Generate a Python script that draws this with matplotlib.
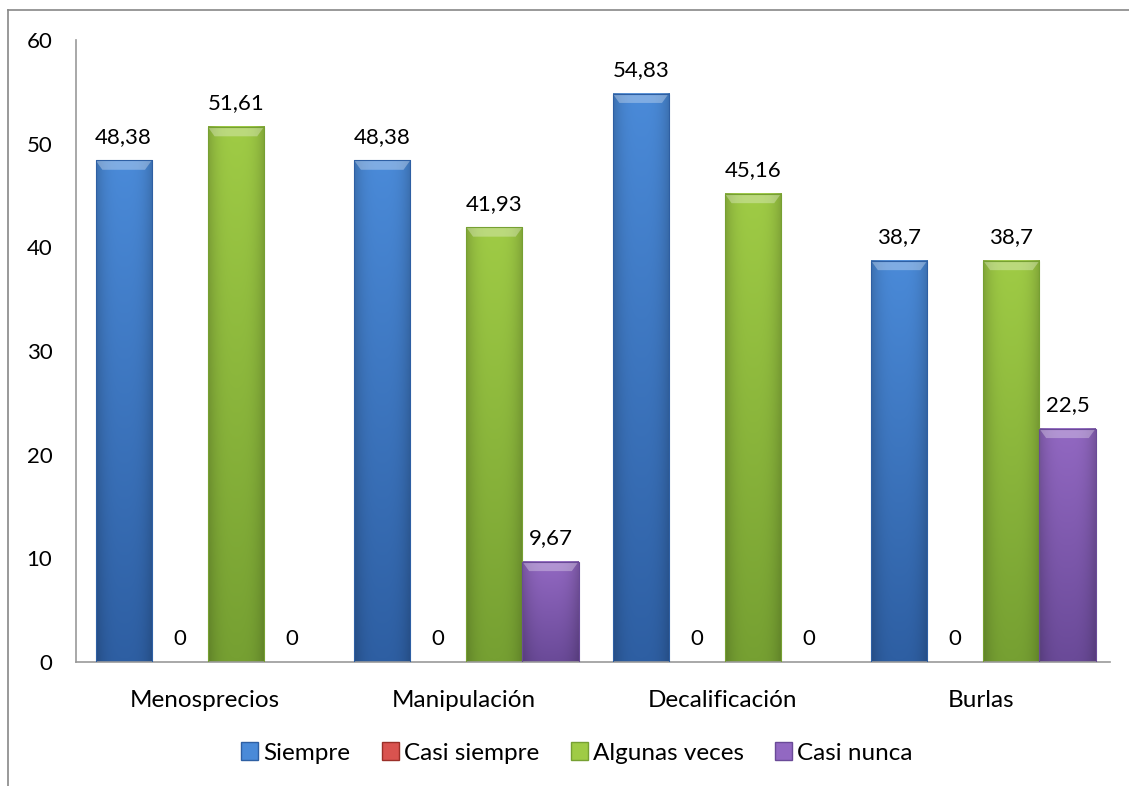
import matplotlib.pyplot as plt
import numpy as np
from matplotlib.colors import to_rgb
from matplotlib.lines import Line2D
from matplotlib.patches import Rectangle, Polygon

categories = ['Menosprecios', 'Manipulación', 'Decalificación', 'Burlas']
series = ['Siempre', 'Casi siempre', 'Algunas veces', 'Casi nunca']
siempre = [48.38, 48.38, 54.83, 38.7]
casi_siempre = [0, 0, 0, 0]
algunas_veces = [51.61, 41.93, 45.16, 38.7]
casi_nunca = [0, 9.67, 0, 22.5]
labels = [
    ['48,38', '48,38', '54,83', '38,7'],
    ['0', '0', '0', '0'],
    ['51,61', '41,93', '45,16', '38,7'],
    ['0', '9,67', '0', '22,5'],
]

# light (top) and dark (bottom) tones of each series
tops = ['#4a8ad8', '#d9534f', '#9fcb45', '#9268c2']
bottoms = ['#2e5fa3', '#9a2f28', '#76a032', '#6a4a98']

plt.rcParams['font.family'] = ['Lato', 'DejaVu Sans']
FS_NUM = 16
FS_TXT = 17.5

fig = plt.figure(figsize=(11.29, 7.86), dpi=100)
ax = fig.add_axes((76 / 1129, 1 - 662 / 786, 1034 / 1129, 622 / 786))

x = np.arange(len(categories))
width = 0.217
values = [siempre, casi_siempre, algunas_veces, casi_nunca]


def draw_bar(x0, w, h, top, bottom):
    if h <= 0:
        return
    t = np.array(to_rgb(top))
    b = np.array(to_rgb(bottom))
    grad = np.linspace(0, 1, 64)[:, None]
    img = (t * (1 - grad) + b * grad)[:, None, :]
    # darken the side edges a bit for a bevel look
    cols = np.linspace(-1, 1, 32)
    shade = 1 - 0.18 * np.abs(cols) ** 3
    img = np.clip(img * shade[None, :, None], 0, 1)
    ax.imshow(img, extent=(x0, x0 + w, 0, h), aspect='auto', zorder=2,
              interpolation='bilinear')
    bev = 0.9
    inset = w * 0.12
    ax.add_patch(Polygon([(x0, h), (x0 + w, h), (x0 + w - inset, h - bev), (x0 + inset, h - bev)],
                         closed=True, color='white', alpha=0.3, lw=0, zorder=3))
    ax.add_patch(Rectangle((x0, 0), w, h, fill=False, edgecolor=bottom, lw=0.8, zorder=3))


for i, (vals, name) in enumerate(zip(values, series)):
    pos = x + (i - 1.5) * width + 0.01
    for p, v, t in zip(pos, vals, labels[i]):
        draw_bar(p - width / 2, width, v, tops[i], bottoms[i])
        ax.text(p, v + 1.3, t, ha='center', va='bottom', fontsize=FS_NUM, color='black')

ax.set_xlim(-0.5, len(categories) - 0.5)
ax.set_ylim(0, 60)
ax.set_yticks(range(0, 61, 10))
ax.set_xticks(x)
ax.set_xticklabels(categories, fontsize=FS_TXT)
ax.tick_params(axis='y', labelsize=FS_NUM, length=0, pad=17)
ax.tick_params(axis='x', length=0, pad=20)
for s in ['top', 'right']:
    ax.spines[s].set_visible(False)
for s in ['left', 'bottom']:
    ax.spines[s].set_color('#999999')
    ax.spines[s].set_linewidth(1.2)

handles = [Rectangle((0, 0), 1, 1, facecolor=c, edgecolor=e) for c, e in zip(tops, bottoms)]
fig.legend(handles, series, loc='center', bbox_to_anchor=(577 / 1129, 1 - 753 / 786), ncol=4,
           frameon=False, fontsize=FS_TXT, handlelength=0.7, handleheight=0.7,
           handletextpad=0.2, columnspacing=1.3)

# outer chart frame
fig.add_artist(Line2D([8 / 1129, 8 / 1129], [1 - 10 / 786, 0.0], color='#888888', lw=1.2))
fig.add_artist(Line2D([8 / 1129, 1.0], [1 - 10 / 786, 1 - 10 / 786], color='#888888', lw=1.2))

fig.savefig('out.png', dpi=100)
